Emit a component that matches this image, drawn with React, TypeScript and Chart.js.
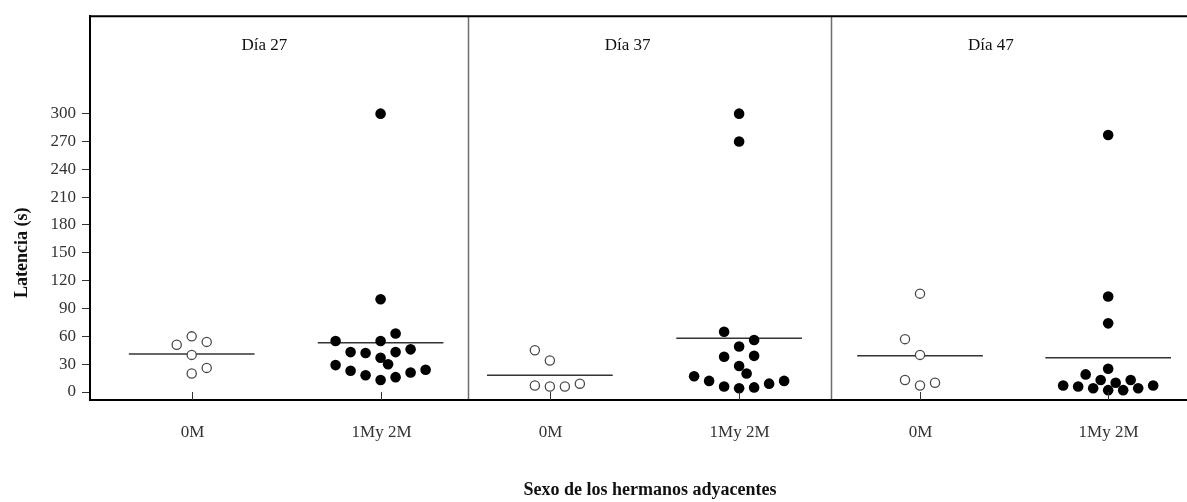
import React, { useEffect, useRef } from 'react';
import { Chart, registerables } from 'chart.js';

Chart.register(...registerables);

const panels = ['Día 27', 'Día 37', 'Día 47'];
const groups = ['0M', '1My 2M'];
const yTicks = [0, 30, 60, 90, 120, 150, 180, 210, 240, 270, 300];
const yTitle = 'Latencia (s)';
const xTitle = 'Sexo de los hermanos adyacentes';

// Día 27
const d27Open = [60, 51, 54, 40, 26, 20];
const d27OpenDx = [0, -1, 1, 0, 1, 0];
const d27Filled = [300, 100, 55, 55, 63, 43, 42, 43, 46, 37, 30, 29, 23, 18, 13, 16, 21, 24];
const d27FilledDx = [0, 0, -3, 0, 1, -2, -1, 1, 2, 0, 0.5, -3, -2, -1, 0, 1, 2, 3];
// Día 37
const d37Open = [45, 34, 7, 6, 6, 9];
const d37OpenDx = [-1, 0, -1, 0, 1, 2];
const d37Filled = [300, 270, 65, 56, 49, 38, 39, 28, 20, 17, 12, 6, 4, 5, 9, 12];
const d37FilledDx = [0, 0, -1, 1, 0, -1, 1, 0, 0.5, -3, -2, -1, 0, 1, 2, 3];
// Día 47
const d47Open = [106, 57, 40, 13, 7, 10];
const d47OpenDx = [0, -1, 0, -1, 0, 1];
const d47Filled = [277, 103, 74, 25, 19, 13, 10, 13, 7, 6, 4, 2, 2, 4, 7];
const d47FilledDx = [0, 0, 0, 0, -1.5, -0.5, 0.5, 1.5, -3, -2, -1, 0, 1, 2, 3];

// medians [0M, 1My 2M] per day
const median27 = [41, 53];
const median37 = [18, 58];
const median47 = [39, 37];

// layout constants (positions within each panel, in panel units)
const groupPos = [
  [0.24, 0.76],
  [0.226, 0.747],
  [0.245, 0.763],
];
const STEP = 0.0413;
const HALF = 0.173;
const FONT = "'Liberation Serif', 'Times New Roman', serif";

const openSets = [
  [d27Open, d27OpenDx],
  [d37Open, d37OpenDx],
  [d47Open, d47OpenDx],
];
const filledSets = [
  [d27Filled, d27FilledDx],
  [d37Filled, d37FilledDx],
  [d47Filled, d47FilledDx],
];
const medians = [median27, median37, median47];

export default function App() {
  const ref = useRef<HTMLCanvasElement>(null);
  useEffect(() => {
    if (!ref.current) return;
    const openData: any[] = [];
    const filledData: any[] = [];
    openSets.forEach(([vals, dx], p) => {
      vals.forEach((v, i) => openData.push({ x: p + groupPos[p][0] + dx[i] * STEP, y: v }));
    });
    filledSets.forEach(([vals, dx], p) => {
      vals.forEach((v, i) => filledData.push({ x: p + groupPos[p][1] + dx[i] * STEP, y: v }));
    });
    const medianSets: any[] = [];
    medians.forEach((m, p) => {
      m.forEach((v, g) => {
        const c = p + groupPos[p][g];
        medianSets.push({
          type: 'scatter',
          data: [
            { x: c - HALF, y: v },
            { x: c + HALF, y: v },
          ],
          showLine: true,
          borderColor: '#333',
          borderWidth: 1.5,
          pointRadius: 0,
          order: 5,
        });
      });
    });

    const decor = {
      id: 'decor',
      afterDraw(chart: any) {
        const { ctx, chartArea } = chart;
        const xs = chart.scales.x;
        const ys = chart.scales.y;
        const { left, top, bottom } = chartArea;
        const right = chart.width;
        ctx.save();
        // dividers
        ctx.strokeStyle = '#6e6e6e';
        ctx.lineWidth = 1.5;
        [1, 2].forEach((b) => {
          const px = Math.round(xs.getPixelForValue(b)) + 0.5;
          ctx.beginPath();
          ctx.moveTo(px, top);
          ctx.lineTo(px, bottom);
          ctx.stroke();
        });
        // top border & bottom axis
        ctx.strokeStyle = '#000';
        ctx.lineWidth = 2;
        ctx.beginPath();
        ctx.moveTo(left - 1, top);
        ctx.lineTo(right, top);
        ctx.moveTo(left - 1, bottom);
        ctx.lineTo(right, bottom);
        ctx.stroke();
        // x ticks + labels
        ctx.fillStyle = '#333';
        ctx.font = `17px ${FONT}`;
        ctx.textAlign = 'center';
        ctx.textBaseline = 'middle';
        ctx.strokeStyle = '#333';
        ctx.lineWidth = 1;
        for (let p = 0; p < panels.length; p++) {
          groups.forEach((g, gi) => {
            const px = Math.round(xs.getPixelForValue(p + groupPos[p][gi])) + 0.5;
            ctx.beginPath();
            ctx.moveTo(px, bottom);
            ctx.lineTo(px, bottom - 8);
            ctx.stroke();
            ctx.fillText(g, px, 433);
          });
          // panel title
          ctx.fillStyle = '#111';
          ctx.fillText(panels[p], xs.getPixelForValue(p + 0.44), 46);
          ctx.fillStyle = '#333';
        }
        // x title
        ctx.fillStyle = '#111';
        ctx.font = `bold 18px ${FONT}`;
        ctx.fillText(xTitle, 650, 490);
        // y title
        ctx.translate(22, ys.getPixelForValue(150));
        ctx.rotate(-Math.PI / 2);
        ctx.fillText(yTitle, 0, 0);
        ctx.restore();
      },
    };

    const chart = new Chart(ref.current, {
      type: 'scatter',
      data: {
        datasets: [
          {
            data: openData,
            backgroundColor: '#fff',
            borderColor: '#4a4a4a',
            borderWidth: 1.3,
            pointRadius: 4.6,
            order: 1,
          },
          {
            data: filledData,
            backgroundColor: '#000',
            borderColor: '#000',
            borderWidth: 0,
            pointRadius: 5.3,
            order: 1,
          },
          ...medianSets,
        ],
      },
      options: {
        animation: false,
        responsive: false,
        devicePixelRatio: 1,
        layout: { autoPadding: false, padding: { top: 14, bottom: 102, left: 0, right: 0 } },
        plugins: { legend: { display: false }, tooltip: { enabled: false } },
        scales: {
          x: { type: 'linear', min: -0.04, max: 2.98, display: false },
          y: {
            type: 'linear',
            min: -8.6,
            max: 405,
            afterBuildTicks: (s: any) => {
              s.ticks = yTicks.map((v) => ({ value: v }));
            },
            afterFit: (s: any) => {
              s.width = 90;
            },
            ticks: { font: { family: FONT, size: 17 }, color: '#333', padding: 6 },
            grid: { drawOnChartArea: false, tickLength: 8, color: '#333', tickWidth: 1 },
            border: { color: '#000', width: 2 },
          },
        },
      },
      plugins: [decor],
    });
    return () => chart.destroy();
  }, []);
  return (
    <div style={{ position: 'absolute', left: 0, top: 0, width: 1187, height: 502, background: '#fff' }}>
      <canvas ref={ref} width={1187} height={502} />
    </div>
  );
}
